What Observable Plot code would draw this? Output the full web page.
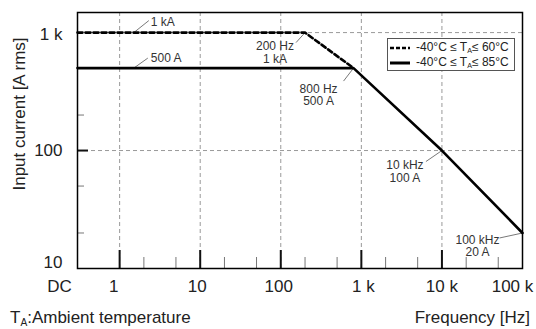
<!DOCTYPE html>
<html><head><meta charset="utf-8">
<script src="https://cdn.jsdelivr.net/npm/d3@7"></script>
<script src="https://cdn.jsdelivr.net/npm/@observablehq/plot@0.6"></script>
<style>
body{margin:0;background:#fff;font-family:"Liberation Sans",Arial,sans-serif;color:#222;}
#wrap{position:relative;width:536px;height:329px;overflow:hidden;}
#wrap svg{position:absolute;left:0;top:0;}
.legend{position:absolute;left:387px;top:38px;width:126px;height:31px;border:1px solid #555;background:#fff;font-size:12px;}
.legend .row{position:absolute;left:2px;height:14px;line-height:14px;white-space:nowrap;}
.legend svg{position:static !important;vertical-align:middle;margin-right:6px;}
.legend sub,.cap sub{font-size:60%;vertical-align:-0.25em;line-height:0;}
.cap{position:absolute;font-size:17px;white-space:nowrap;line-height:20px;}
</style></head><body><div id="wrap"></div>
<script>
// ---- data ----
const DC = 0.3; // position used for "DC" at the left edge of the log axis
const xTickValues = [DC, 1, 10, 100, 1000, 10000, 100000];
const xTickLabels = ["DC", "1", "10", "100", "1 k", "10 k", "100 k"];
const xMinorTicks = [2, 5, 20, 50, 200, 500, 2000, 5000, 20000, 50000];
const yTickValues = [10, 100, 1000];
const yTickLabels = ["10", "100", "1 k"];
const yMinorTicks = [20, 50, 200, 500];
const gridX = [1, 10, 100, 1000, 10000];
const gridY = [100, 1000];
const freq60 = [DC, 200, 800];
const amps60 = [1000, 1000, 500];
const freq85 = [DC, 800, 10000, 100000];
const amps85 = [500, 500, 100, 20];
const noteFreq = [1.5, 1.5, 200, 800, 10000, 100000];
const noteAmps = [1000, 500, 1000, 500, 100, 20];
const noteText = ["1 kA", "500 A", "200 Hz\n1 kA", "800 Hz\n500 A", "10 kHz\n100 A", "100 kHz\n20 A"];

// ---- styles (pixel offsets) ----
const W = 536, H = 300;
const M = {top: 12, right: 14, bottom: 32, left: 77};
const xDomain = [DC, 100000], yDomain = [10, 1480];
const xLabelDx = [-18, -6, -3, -2, 2, 0, -10];
const yLabelDy = [-6, 0, 2];
const noteStyle = [
  {dx: 17, dy: -11, anchor: "start", lx: 15, ly: -12},
  {dx: 17, dy: -10, anchor: "start", lx: 14, ly: -10},
  {dx: -30, dy: 20, anchor: "middle", lx: -9, ly: 10},
  {dx: -35, dy: 27, anchor: "middle", lx: -10, ly: 13},
  {dx: -37, dy: 21, anchor: "middle", lx: -16, ly: 11},
  {dx: -45, dy: 13, anchor: "middle", lx: -23, ly: 5}
];
const frameW = W - M.left - M.right, frameH = H - M.top - M.bottom;

const xs = Plot.scale({x: {type: "log", domain: xDomain, range: [M.left, W - M.right]}});
const ys = Plot.scale({y: {type: "log", domain: yDomain, range: [H - M.bottom, M.top]}});
const leaders = noteFreq.map((f, i) => ({
  x1: f, y1: noteAmps[i],
  x2: xs.invert(xs.apply(f) + noteStyle[i].lx),
  y2: ys.invert(ys.apply(noteAmps[i]) + noteStyle[i].ly)
}));

const grid = {stroke: "#999", strokeWidth: 1, strokeDasharray: "4,3"};
const font = "Liberation Sans, Arial, sans-serif";

const plot = Plot.plot({
  width: W, height: H,
  marginTop: M.top, marginRight: M.right, marginBottom: M.bottom, marginLeft: M.left,
  style: {fontFamily: font, background: "white", overflow: "visible"},
  x: {type: "log", domain: xDomain, axis: null},
  y: {type: "log", domain: yDomain, axis: null},
  marks: [
    Plot.ruleX(gridX, grid),
    Plot.ruleY(gridY, grid),
    Plot.ruleX(xMinorTicks, {stroke: "#777", strokeWidth: 1, insetTop: frameH - 11}),
    Plot.ruleX(gridX, {stroke: "#111", strokeWidth: 2, insetTop: frameH - 18}),
    Plot.ruleY(yMinorTicks, {stroke: "#777", strokeWidth: 1, insetRight: frameW - 7}),
    Plot.ruleY([100], {stroke: "#111", strokeWidth: 2, insetRight: frameW - 11}),
    Plot.link(leaders, {x1: "x1", y1: "y1", x2: "x2", y2: "y2", stroke: "#555", strokeWidth: 0.8}),
    Plot.line(freq85, {x: freq85, y: amps85, stroke: "#000", strokeWidth: 2.6}),
    Plot.line(freq60, {x: freq60, y: amps60, stroke: "#000", strokeWidth: 2.6, strokeDasharray: "5,3"}),
    Plot.frame({stroke: "#000", strokeWidth: 1.5}),
    ...xTickValues.map((v, i) => Plot.text([v], {x: d => d, frameAnchor: "bottom", text: [xTickLabels[i]],
      dy: 18, dx: xLabelDx[i], fontSize: 17, fill: "#222", textAnchor: "middle", lineAnchor: "middle"})),
    ...yTickValues.map((v, i) => Plot.text([v], {y: d => d, frameAnchor: "left", text: [yTickLabels[i]],
      dx: -15, dy: yLabelDy[i], fontSize: 17, fill: "#222", textAnchor: "end", lineAnchor: "middle"})),
    ...noteFreq.map((f, i) => Plot.text([f], {x: d => d, y: [noteAmps[i]], text: [noteText[i]],
      dx: noteStyle[i].dx, dy: noteStyle[i].dy, textAnchor: noteStyle[i].anchor, lineAnchor: "middle",
      lineHeight: 1.05, fontSize: 12, fill: "#333"}))
  ]
});
const wrap = document.getElementById("wrap");
wrap.appendChild(plot);

// y-axis title
const yt = document.createElement("div");
yt.className = "cap";
yt.textContent = "Input current [A rms]";
yt.style.left = "20px"; yt.style.top = "114px";
yt.style.transform = "translate(-50%,-50%) rotate(-90deg)";
wrap.appendChild(yt);

// captions below
const c1 = document.createElement("div");
c1.className = "cap"; c1.style.left = "10px"; c1.style.top = "308px";
c1.innerHTML = "T<sub>A</sub>:Ambient temperature";
wrap.appendChild(c1);
const c2 = document.createElement("div");
c2.className = "cap"; c2.style.right = "6px"; c2.style.top = "308px";
c2.textContent = "Frequency [Hz]";
wrap.appendChild(c2);

// legend
const lg = document.createElement("div");
lg.className = "legend";
lg.innerHTML =
  '<div class="row" style="top:1px"><svg width="20" height="6"><line x1="0" x2="20" y1="3" y2="3" stroke="#000" stroke-width="2.6" stroke-dasharray="4,2"/></svg>-40°C ≤ T<sub>A</sub>≤ 60°C</div>' +
  '<div class="row" style="top:16px"><svg width="20" height="6"><line x1="0" x2="20" y1="3" y2="3" stroke="#000" stroke-width="3"/></svg>-40°C ≤ T<sub>A</sub>≤ 85°C</div>';
wrap.appendChild(lg);
</script></body></html>
